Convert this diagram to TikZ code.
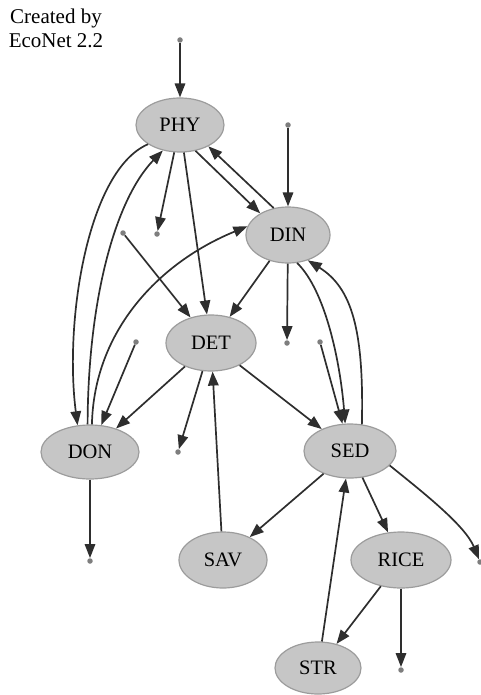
\documentclass[tikz,border=0pt]{standalone}
\usepackage{fontspec}
\setmainfont{Liberation Serif}
\usetikzlibrary{shapes.geometric,arrows.meta}
\definecolor{nodefill}{HTML}{C6C6C6}
\definecolor{nodeline}{HTML}{9C9C9C}
\definecolor{edgecol}{HTML}{2E2E2E}
\definecolor{dotcol}{HTML}{7E7E7E}
\tikzset{
  comp/.style={ellipse, draw=nodeline, fill=nodefill, line width=1.2pt, inner sep=0pt,
    font=\fontsize{20.5}{24}\selectfont, text=black},
  term/.style={circle, fill=dotcol, inner sep=0pt, minimum size=5.5pt},
  flow/.style={draw=edgecol, line width=1.7pt, -{Triangle[length=14pt,width=10.5pt]}},
}
\begin{document}
\begin{tikzpicture}[x=1pt,y=-1pt]
\useasboundingbox (0,0) rectangle (481,695);
\node[align=center, font=\fontsize{21}{24}\selectfont, inner sep=0pt] (credit) at (56,28) {Created by\\EcoNet 2.2};
% compartments
\node[comp, minimum width=88pt, minimum height=54pt] (PHY) at (180,125) {PHY};
\node[comp, minimum width=84pt, minimum height=56pt] (DIN) at (288,235) {DIN};
\node[comp, minimum width=90pt, minimum height=56pt] (DET) at (211,343) {DET};
\node[comp, minimum width=98pt, minimum height=54pt] (DON) at (90,452) {DON};
\node[comp, minimum width=92pt, minimum height=54pt] (SED) at (350,451) {SED};
\node[comp, minimum width=88pt, minimum height=56pt] (SAV) at (223,560) {SAV};
\node[comp, minimum width=100pt, minimum height=56pt] (RICE) at (401,560) {RICE};
\node[comp, minimum width=86pt, minimum height=52pt] (STR) at (318,668) {STR};
% boundary terminals
\node[term] (inPHY) at (180,40) {};
\node[term] (inDIN) at (288,125) {};
\node[term] (outPHY) at (157,234) {};
\node[term] (inDET) at (123,233) {};
\node[term] (outDIN) at (287,343) {};
\node[term] (inDON) at (136,342) {};
\node[term] (inSED) at (320,342) {};
\node[term] (outDET) at (178,452) {};
\node[term] (outDON) at (90,561) {};
\node[term] (outSED) at (480,562) {};
\node[term] (outRICE) at (401,670) {};
% flows
\draw[flow] (inPHY) -- (PHY);
\draw[flow] (inDIN) -- (DIN);
\draw[flow] (PHY) -- (outPHY);
\draw[flow] (PHY.211) .. controls (88,170) and (64,320) .. (DON.115);
\draw[flow] (DON.95) .. controls (88,300) and (115,200) .. (PHY.236);
\draw[flow] (PHY) -- (DET);
\draw[flow] (PHY.-59) -- (DIN.142);
\draw[flow] (DIN.118) -- (PHY.-37);
\draw[flow] (inDET) -- (DET);
\draw[flow] (DIN) -- (DET);
\draw[flow] (DIN) -- (outDIN);
\draw[flow] (DON.86) .. controls (94,330) and (160,262) .. (DIN.168);
\draw[flow] (inDON) -- (DON);
\draw[flow] (DET) -- (DON);
\draw[flow] (DET) -- (outDET);
\draw[flow] (DET) -- (SED);
\draw[flow] (DIN.-72) .. controls (325,290) and (340,360) .. (SED.100);
\draw[flow] (SED.66) .. controls (364,330) and (352,288) .. (DIN.-52);
\draw[flow] (inSED) -- (SED);
\draw[flow] (SAV) -- (DET);
\draw[flow] (SED) -- (SAV);
\draw[flow] (SED) -- (RICE);
\draw[flow] (SED.-20) .. controls (420,490) and (465,525) .. (outSED);
\draw[flow] (RICE) -- (STR);
\draw[flow] (RICE) -- (outRICE);
\draw[flow] (STR) -- (SED);
\draw[flow] (DON) -- (outDON);
\end{tikzpicture}
\end{document}
